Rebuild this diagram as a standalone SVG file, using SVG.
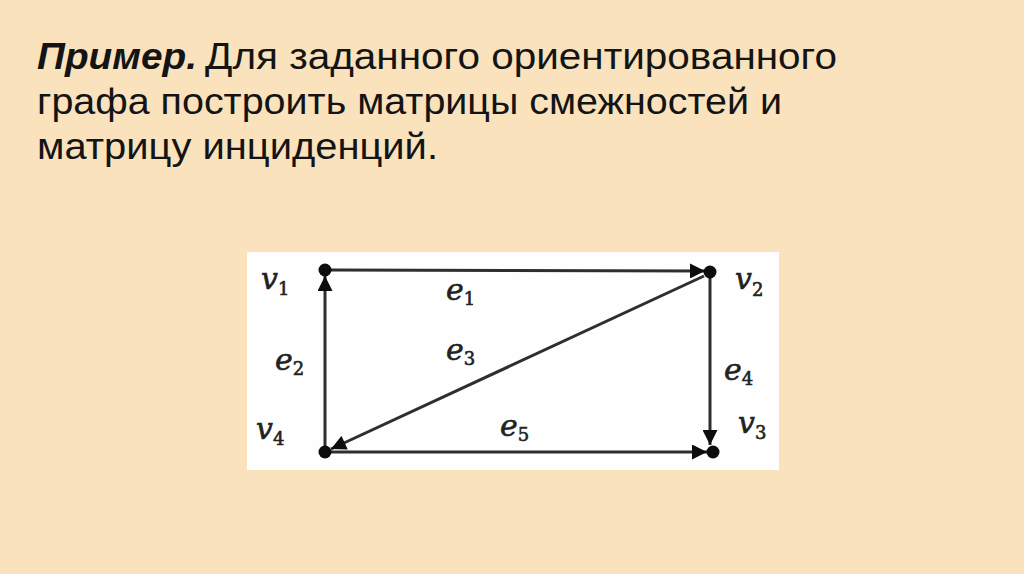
<svg xmlns="http://www.w3.org/2000/svg" width="1024" height="574" viewBox="0 0 1024 574">
<style>
.t{font-family:"Liberation Sans","Arial",sans-serif;font-size:36px;fill:#141414}
.b{font-weight:bold;font-style:italic}
.lbl{font-family:"DejaVu Serif","Liberation Serif",serif;font-style:italic;font-size:30px;fill:#222;stroke:#222;stroke-width:0.6}
.sub{font-style:normal;font-size:18px}
.edge{stroke:#2e2e2e;stroke-width:3;fill:none}
.dot{fill:#0d0d0d}
</style>
<defs>
<marker id="arr" viewBox="0 0 10 10" refX="10" refY="5" markerWidth="5.5" markerHeight="5" markerUnits="strokeWidth" orient="auto">
<path d="M0,0 L10,5 L0,10 z" fill="#0d0d0d"/>
</marker>
</defs>
<rect width="1024" height="574" fill="#F9E2BC"/>
<g id="title">
<text class="t b" x="37" y="69" textLength="160" lengthAdjust="spacingAndGlyphs">Пример.</text>
<text class="t" x="205" y="69" textLength="632" lengthAdjust="spacingAndGlyphs">Для заданного ориентированного</text>
<text class="t" x="37" y="114" textLength="745" lengthAdjust="spacingAndGlyphs">графа построить матрицы смежностей и</text>
<text class="t" x="37" y="159" textLength="401" lengthAdjust="spacingAndGlyphs">матрицу инциденций.</text>
</g>
<rect x="247" y="252" width="532" height="218" fill="#FEFEFE"/>
<g id="connectors">
<line id="e1" class="edge" x1="331" y1="270" x2="705" y2="271" marker-end="url(#arr)"/>
<line id="e2" class="edge" x1="325" y1="446" x2="325" y2="276" marker-end="url(#arr)"/>
<line id="e3" class="edge" x1="704" y1="276" x2="331" y2="449" marker-end="url(#arr)"/>
<line id="e4" class="edge" x1="710" y1="278" x2="710" y2="445" marker-end="url(#arr)"/>
<line id="e5" class="edge" x1="331" y1="452" x2="707" y2="452" marker-end="url(#arr)"/>
</g>
<g id="v1"><circle class="dot" cx="325" cy="270" r="6.5"/><text class="lbl" x="261" y="289">v<tspan class="sub" dy="6">1</tspan></text></g>
<g id="v2"><circle class="dot" cx="710" cy="272" r="6.5"/><text class="lbl" x="735" y="289">v<tspan class="sub" dy="7">2</tspan></text></g>
<g id="v3"><circle class="dot" cx="713" cy="452" r="6.5"/><text class="lbl" x="738" y="433">v<tspan class="sub" dy="6">3</tspan></text></g>
<g id="v4"><circle class="dot" cx="325" cy="452" r="6.5"/><text class="lbl" x="256" y="439">v<tspan class="sub" dy="6">4</tspan></text></g>
<g id="labels">
<text class="lbl" x="446" y="300">e<tspan class="sub" dy="5">1</tspan></text>
<text class="lbl" x="275" y="370">e<tspan class="sub" dy="5">2</tspan></text>
<text class="lbl" x="446" y="360">e<tspan class="sub" dy="5">3</tspan></text>
<text class="lbl" x="724" y="380">e<tspan class="sub" dy="5">4</tspan></text>
<text class="lbl" x="500" y="436">e<tspan class="sub" dy="5">5</tspan></text>
</g>
</svg>
